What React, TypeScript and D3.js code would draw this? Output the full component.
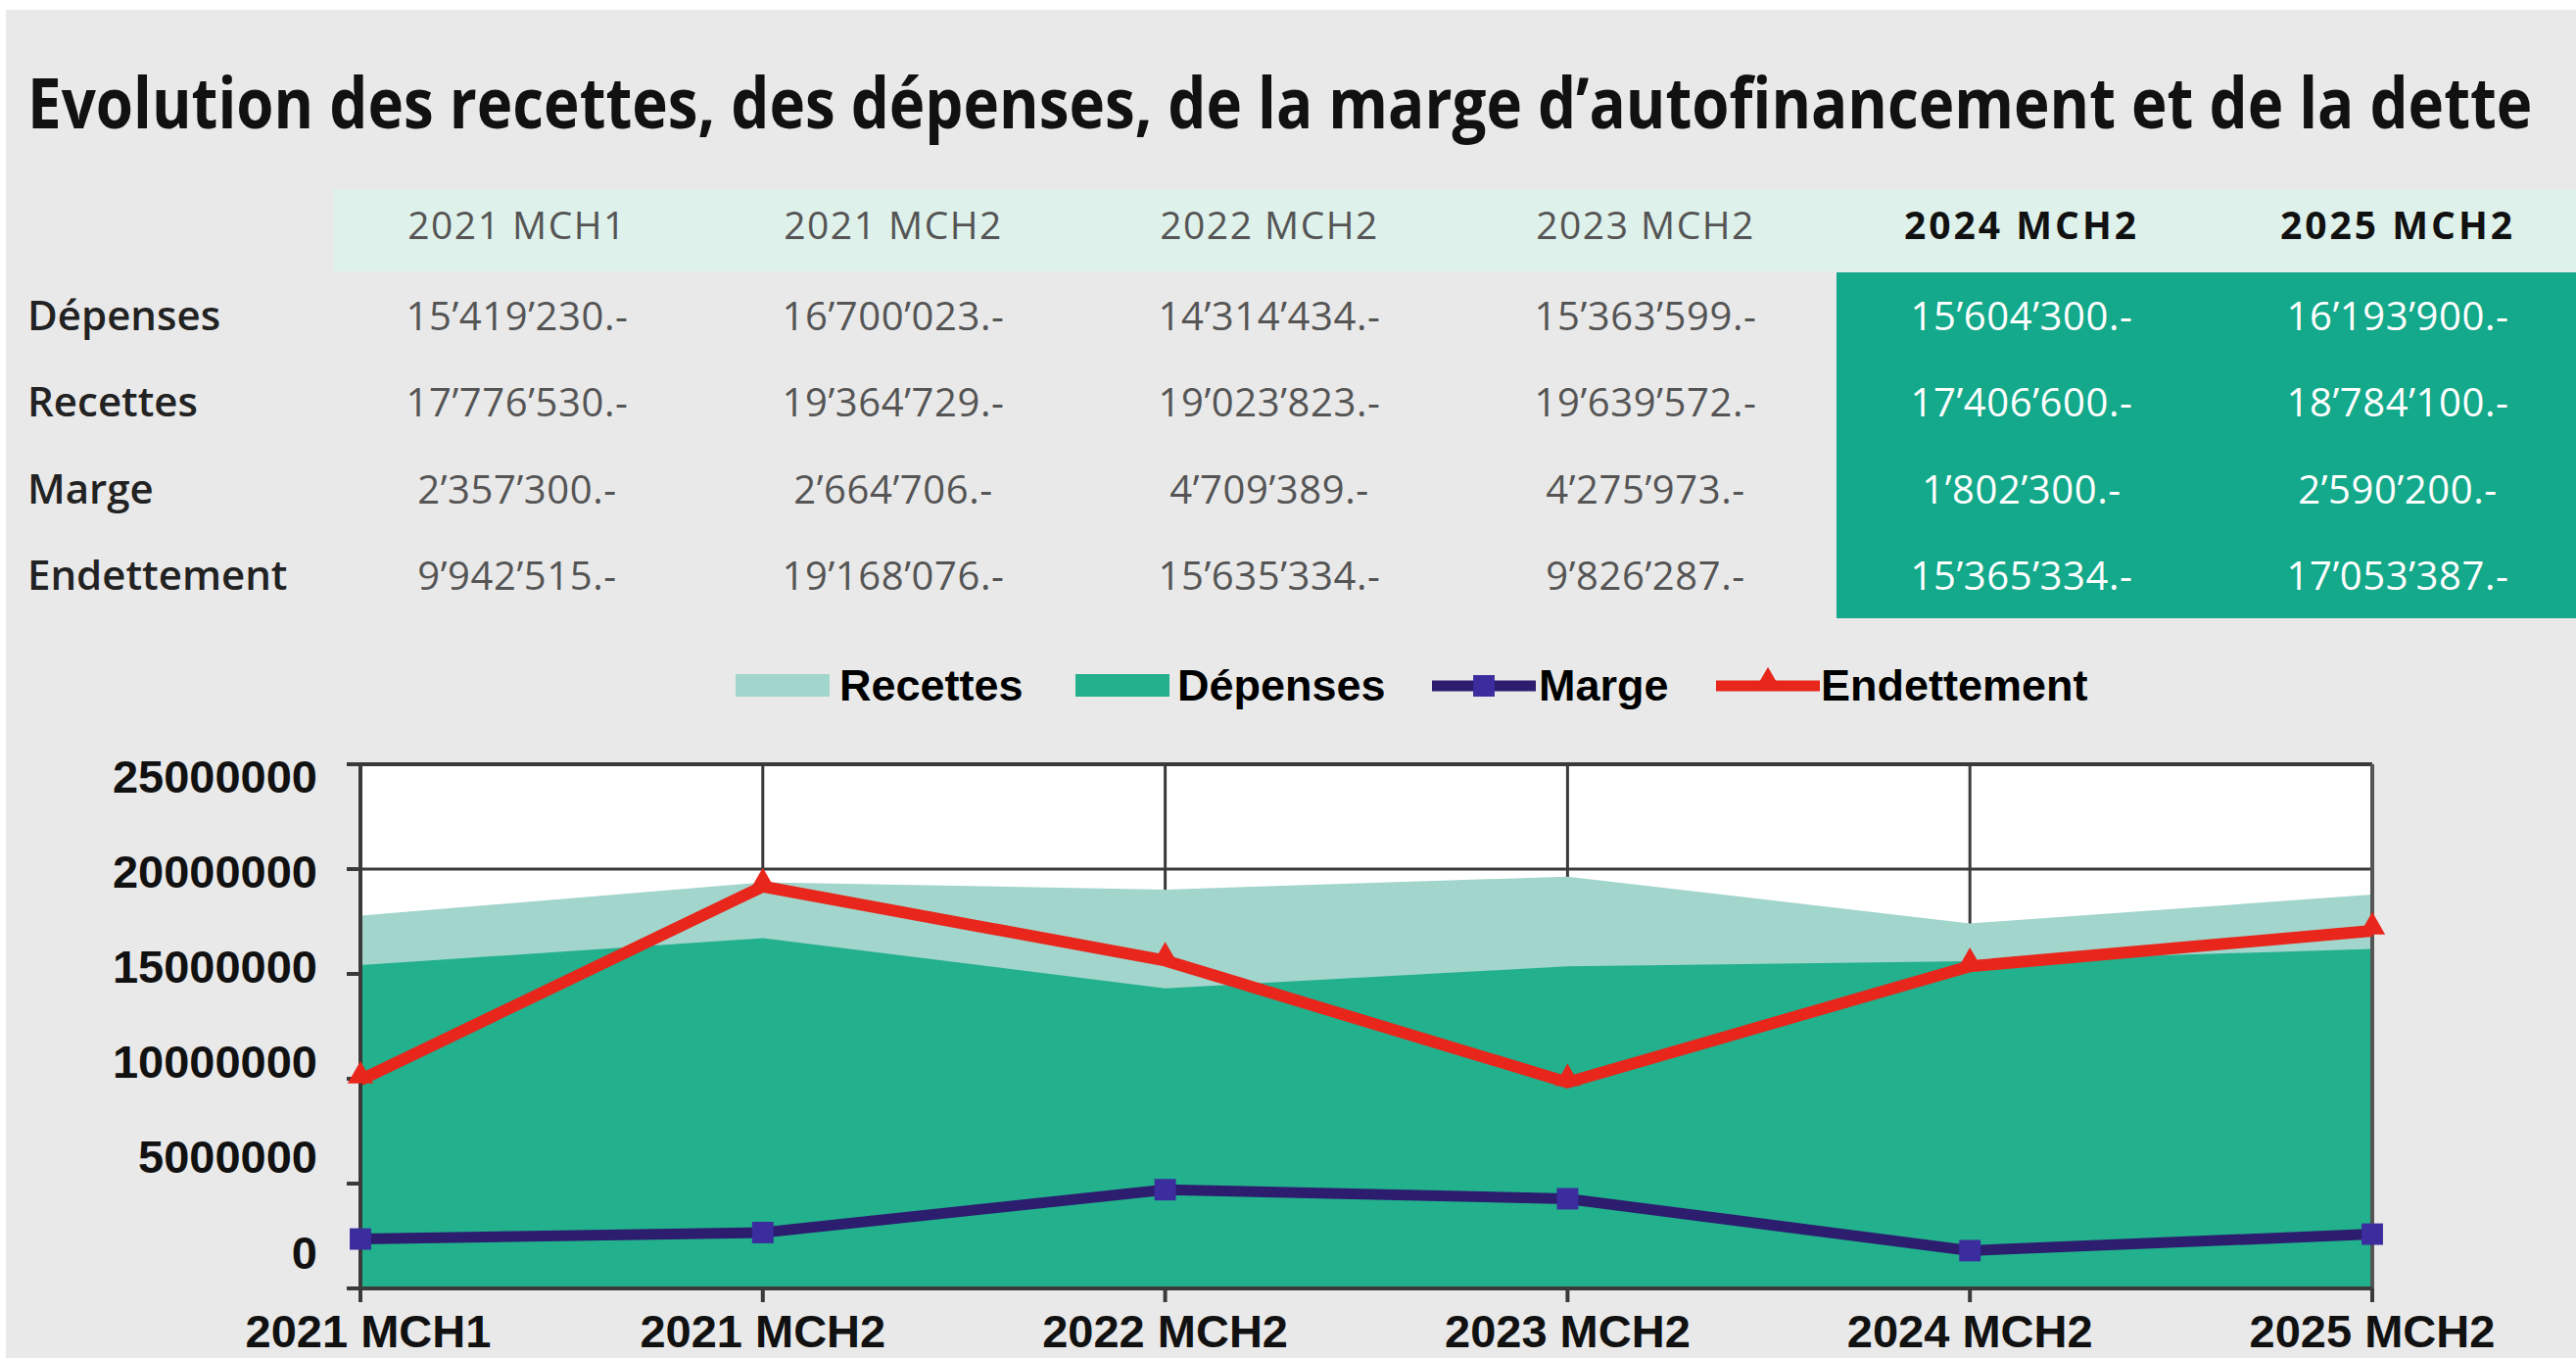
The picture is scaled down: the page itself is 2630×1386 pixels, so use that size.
import React, { useLayoutEffect, useRef, useState } from "react";
import * as d3 from "d3";

const categories = ["2021 MCH1", "2021 MCH2", "2022 MCH2", "2023 MCH2", "2024 MCH2", "2025 MCH2"];
const depenses = [15419230, 16700023, 14314434, 15363599, 15604300, 16193900];
const recettes = [17776530, 19364729, 19023823, 19639572, 17406600, 18784100];
const marge = [2357300, 2664706, 4709389, 4275973, 1802300, 2590200];
const endettement = [9942515, 19168076, 15635334, 9826287, 15365334, 17053387];
const yTicks = [0, 5000000, 10000000, 15000000, 20000000, 25000000];
const rowLabels = ["Dépenses", "Recettes", "Marge", "Endettement"];
const projected = ["2024 MCH2", "2025 MCH2"];
const title = "Evolution des recettes, des dépenses, de la marge d\u2019autofinancement et de la dette";

const W = 2630;
const H = 1386;
const C = {
  bg: "#e9e9e9",
  header: "#dff1eb",
  block: "#13a98a",
  recettes: "#a2d5cc",
  depenses: "#23b08d",
  marge: "#2c1d6e",
  margeMark: "#3b2d9e",
  dette: "#e8261b",
  axis: "#3a3a3a",
};

const locale = d3.formatLocale({ decimal: ".", thousands: "\u2019", grouping: [3], currency: ["", ""] });
const fmt = (v: number) => locale.format(",")(v) + ".-";

export default function App() {
  const titleRef = useRef<SVGTextElement>(null);
  const [sx, setSx] = useState(1);
  useLayoutEffect(() => {
    const el = titleRef.current;
    if (el) {
      const len = el.getComputedTextLength();
      if (len > 0) setSx(2558 / len);
    }
  }, []);

  const x = d3.scalePoint<string>().domain(categories).range([368, 2422]);
  const y = d3.scaleLinear().domain([0, 25000000]).range([1315, 780]);
  const yLabel = d3.scaleLinear().domain([0, 25000000]).range([1278, 792]);
  const col = d3.scalePoint<string>().domain(categories).range([528, 2448]);
  const row = d3.scalePoint<string>().domain(rowLabels).range([337, 602]);

  const rows: Record<string, number[]> = {
    "Dépenses": depenses,
    "Recettes": recettes,
    "Marge": marge,
    "Endettement": endettement,
  };

  const area = (vals: number[]) =>
    d3.area<number>().x((_, i) => x(categories[i])!).y0(y(0)).y1((d) => y(d))(vals)!;
  const line = (vals: number[]) =>
    d3.line<number>().x((_, i) => x(categories[i])!).y((d) => y(d))(vals)!;

  const sq = d3.symbol(d3.symbolSquare, 480)()!;
  const tri = d3.symbol(d3.symbolTriangle, 300)()!;

  const x0 = x(categories[0])!;
  const x1 = x(categories[categories.length - 1])!;
  const yTop = y(25000000);
  const yBot = y(0);

  const tableFont = "'Open Sans', 'Noto Sans', sans-serif";
  const chartFont = "'Liberation Sans', Arial, sans-serif";
  const blockX = (col(projected[0])! + col(categories[3])!) / 2 + 3;

  return (
    <svg width={W} height={H} style={{ position: "absolute", left: 0, top: 0 }}>
      <rect x={0} y={0} width={W} height={H} fill="#ffffff" />
      <rect x={6} y={10} width={W - 6} height={H - 10} fill={C.bg} />

      <text ref={titleRef} x={0} y={0} transform={`translate(28,131) scale(${sx},1)`}
        fontFamily={tableFont} fontWeight={700} fontSize={71} fill="#111">{title}</text>

      {/* table */}
      <rect x={340} y={193} width={W - 340} height={84} fill={C.header} />
      <rect x={blockX} y={278} width={W - blockX} height={353} fill={C.block} />
      {categories.map((c) => {
        const bold = projected.includes(c);
        return (
          <text key={c} x={col(c)} y={244} textAnchor="middle" fontFamily={tableFont}
            fontSize={39} letterSpacing={bold ? 3 : 1.5} fontWeight={bold ? 700 : 400}
            fill={bold ? "#111" : "#555"}>{c}</text>
        );
      })}
      {rowLabels.map((r) => (
        <g key={r}>
          <text x={28} y={row(r)} fontFamily={tableFont} fontSize={42} fontWeight={600} fill="#222">{r}</text>
          {rows[r].map((v, i) => {
            const proj = projected.includes(categories[i]);
            return (
              <text key={i} x={col(categories[i])} y={row(r)} textAnchor="middle" fontFamily={tableFont}
                fontSize={40} letterSpacing={0.6} fill={proj ? "#ffffff" : "#555"}>{fmt(v)}</text>
            );
          })}
        </g>
      ))}

      {/* legend */}
      <g fontFamily={chartFont} fontWeight={700} fontSize={45} fill="#000">
        <rect x={751} y={688} width={96} height={23} fill={C.recettes} />
        <text x={857} y={715}>Recettes</text>
        <rect x={1098} y={688} width={96} height={23} fill={C.depenses} />
        <text x={1202} y={715}>Dépenses</text>
        <line x1={1462} x2={1568} y1={700} y2={700} stroke={C.marge} strokeWidth={11} />
        <path d={sq} transform="translate(1515,700)" fill={C.margeMark} />
        <text x={1571} y={715}>Marge</text>
        <line x1={1752} x2={1858} y1={700} y2={700} stroke={C.dette} strokeWidth={11} />
        <path d={tri} transform="translate(1805,696)" fill={C.dette} />
        <text x={1859} y={715}>Endettement</text>
      </g>

      {/* plot */}
      <rect x={x0} y={yTop} width={x1 - x0} height={yBot - yTop} fill="#ffffff" />
      {categories.slice(1, -1).map((c) => (
        <line key={c} x1={x(c)} x2={x(c)} y1={yTop} y2={yBot} stroke={C.axis} strokeWidth={3} />
      ))}
      {yTicks.slice(1, -1).map((t) => (
        <line key={t} x1={x0} x2={x1} y1={y(t)} y2={y(t)} stroke={C.axis} strokeWidth={3} />
      ))}
      <path d={area(recettes)} fill={C.recettes} />
      <path d={area(depenses)} fill={C.depenses} />
      <line x1={x0} x2={x1} y1={yTop} y2={yTop} stroke={C.axis} strokeWidth={4} />
      <line x1={x1} x2={x1} y1={yTop} y2={yBot} stroke="#555" strokeWidth={4} />
      <line x1={x0} x2={x0} y1={yTop - 2} y2={yBot + 2} stroke={C.axis} strokeWidth={4} />
      <line x1={x0} x2={x1} y1={yBot} y2={yBot} stroke={C.axis} strokeWidth={4} />
      {yTicks.map((t) => (
        <line key={t} x1={x0 - 14} x2={x0} y1={y(t)} y2={y(t)} stroke={C.axis} strokeWidth={4} />
      ))}
      {categories.map((c) => (
        <line key={c} x1={x(c)} x2={x(c)} y1={yBot} y2={yBot + 14} stroke={C.axis} strokeWidth={4} />
      ))}

      <path d={line(endettement)} fill="none" stroke={C.dette} strokeWidth={12} strokeLinejoin="miter" />
      {endettement.map((v, i) => (
        <path key={i} d={tri} transform={`translate(${x(categories[i])},${y(v) - 4})`} fill={C.dette} />
      ))}
      <path d={line(marge)} fill="none" stroke={C.marge} strokeWidth={11} strokeLinejoin="miter" />
      {marge.map((v, i) => (
        <path key={i} d={sq} transform={`translate(${x(categories[i])},${y(v)})`} fill={C.margeMark} />
      ))}

      <g fontFamily={chartFont} fontWeight={700} fontSize={47} fill="#111">
        {yTicks.map((t) => (
          <text key={t} x={324} y={yLabel(t)} textAnchor="end" dominantBaseline="central">{t}</text>
        ))}
        {categories.map((c, i) => (
          <text key={c} x={x(c)! + (i === 0 ? 8 : 0)} y={1375} textAnchor="middle">{c}</text>
        ))}
      </g>
    </svg>
  );
}
